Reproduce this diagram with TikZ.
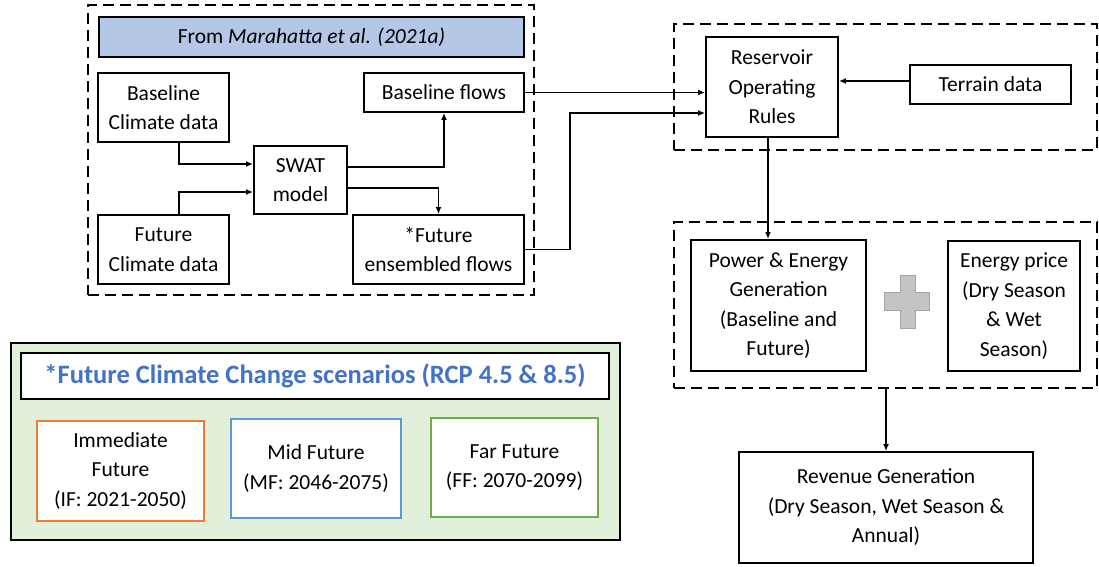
\documentclass[tikz,border=0pt]{standalone}
\usepackage{fontspec}
\setmainfont{Carlito}
\usetikzlibrary{arrows.meta,calc}
\definecolor{hdrblue}{HTML}{B4C7E7}
\definecolor{ttlblue}{HTML}{4472C4}
\definecolor{grnfill}{HTML}{E2EFDA}
\definecolor{orng}{HTML}{ED7D31}
\definecolor{mblue}{HTML}{5B9BD5}
\definecolor{fgreen}{HTML}{70AD47}
\definecolor{plusgray}{HTML}{C4C4C4}
\begin{document}
\begin{tikzpicture}[x=1pt,y=-1pt,
  txt/.style={font=\fontsize{21.5}{29.5}\selectfont, align=center, inner sep=0pt},
  box/.style={txt, draw, line width=1.9pt, fill=white},
  dbox/.style={draw, line width=1.8pt, dash pattern=on 11pt off 6pt, inner sep=0pt},
  arr/.style={line width=1.9pt, -{Latex[length=7pt,width=6pt]}}]
\useasboundingbox (0,0) rectangle (1099,566);
% dashed groups
\node[dbox, minimum width=446pt, minimum height=290pt] (grpA) at (311,150) {};
\node[dbox, minimum width=423pt, minimum height=126pt] (grpB) at (885.5,87) {};
\node[dbox, minimum width=423pt, minimum height=166pt] (grpC) at (885.5,305) {};
% left group
\node[box, fill=hdrblue, minimum width=425pt, minimum height=40pt] (hdr) at (311.5,37) {From \textit{Marahatta et al. (2021a)}};
\node[box, minimum width=131pt, minimum height=69pt] (bcd) at (163.5,107.5) {Baseline\\Climate data};
\node[box, minimum width=131pt, minimum height=69pt] (fcd) at (163.5,249.5) {Future\\Climate data};
\node[box, minimum width=93pt, minimum height=68pt] (swat) at (300.5,180) {SWAT\\model};
\node[box, minimum width=160pt, minimum height=39pt] (bfl) at (444,92.5) {Baseline flows};
\node[box, minimum width=171pt, minimum height=69pt] (ffl) at (438.5,249.5) {*Future\\ensembled flows};
% right groups
\node[box, minimum width=132pt, minimum height=100pt] (res) at (772,87) {Reservoir\\Operating\\Rules};
\node[box, minimum width=161pt, minimum height=39pt] (ter) at (990.5,84.5) {Terrain data};
\node[box, minimum width=175pt, minimum height=131pt] (pow) at (778.5,305.5) {Power \& Energy\\Generation\\(Baseline and\\Future)};
\node[box, minimum width=132pt, minimum height=130pt] (price) at (1014,306) {Energy price\\(Dry Season\\\& Wet\\Season)};
\node[box, minimum width=294pt, minimum height=111pt] (rev) at (886,507.5) {Revenue Generation\\(Dry Season, Wet Season \&\\Annual)};
% plus sign
\fill[plusgray, draw=gray!70, line width=0.4pt] (900,275) -- (915,275) -- (915,292) -- (929,292) -- (929,310) -- (915,310) -- (915,328) -- (900,328) -- (900,310) -- (884,310) -- (884,292) -- (900,292) -- cycle;
% scenarios panel
\node[draw, line width=1.9pt, fill=grnfill, minimum width=609pt, minimum height=197pt, inner sep=0pt] (panel) at (315.5,441.5) {};
\node[box, minimum width=588pt, minimum height=46pt, font=\fontsize{26.5}{30}\selectfont\bfseries, text=ttlblue] (ttl) at (315,376) {*Future Climate Change scenarios (RCP 4.5 \& 8.5)};
\node[box, draw=orng, line width=1.4pt, minimum width=167pt, minimum height=100pt] (imm) at (120.5,471) {Immediate\\Future\\(IF: 2021-2050)};
\node[box, draw=mblue, line width=1.4pt, minimum width=170pt, minimum height=99pt] (midf) at (316,468.5) {Mid Future\\(MF: 2046-2075)};
\node[box, draw=fgreen, line width=1.4pt, minimum width=167pt, minimum height=99pt] (farf) at (514.5,467.5) {Far Future\\(FF: 2070-2099)};
% connectors
\draw[arr] ([xshift=15.5pt]bcd.south) |- ([yshift=16pt]swat.west);
\draw[arr] ([xshift=15.5pt]fcd.north) |- ([yshift=-12pt]swat.west);
\draw[arr] ([yshift=13pt]swat.east) -| (bfl.south);
\draw[arr] ([yshift=-8pt]swat.east) -| (ffl.north);
\draw[arr] (bfl.east) -- (res.west |- bfl.east);
\draw[arr] (ffl.east) -- ++(45,0) |- ([yshift=-26pt]res.west);
\draw[arr] ([yshift=3.5pt]ter.west) -- ([yshift=3.5pt]ter.west -| res.east);
\draw[arr] ([xshift=-4pt]res.south) -- ([xshift=-4pt]res.south |- pow.north);
\draw[arr] (grpC.south -| rev.north) -- (rev.north);
\end{tikzpicture}
\end{document}
